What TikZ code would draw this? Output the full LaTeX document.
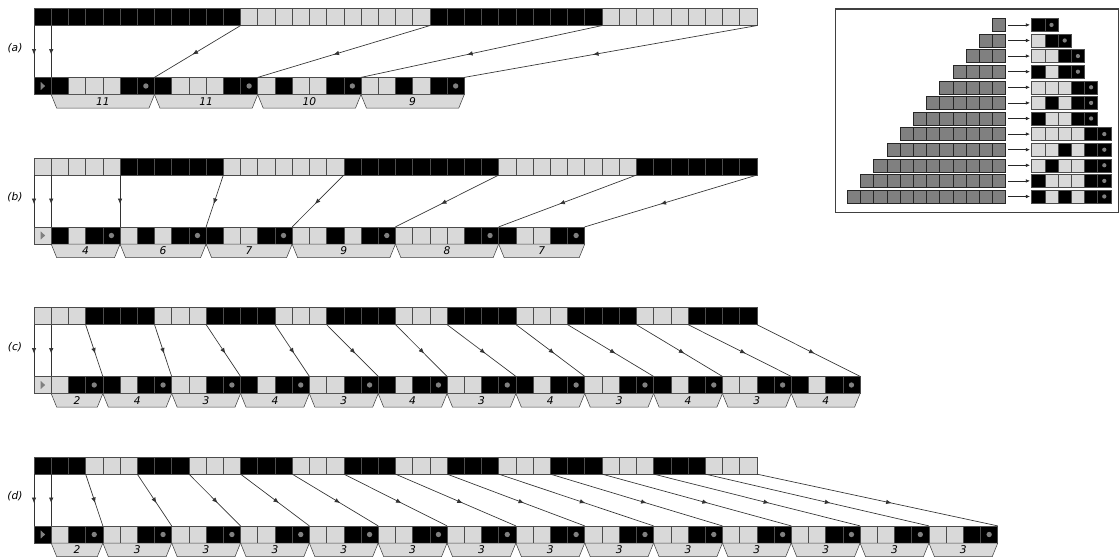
\documentclass[tikz,border=0pt]{standalone}
\usepackage{fontspec}
\setsansfont{DejaVu Sans}
\usepackage{xcolor}
\usepackage{tikz}
\usetikzlibrary{calc,arrows.meta,decorations.markings}

\definecolor{lightcell}{gray}{0.85}
\definecolor{midgray}{gray}{0.5}

\newcount\tpos
\newcount\bpos

% codewords: B = black, L = light, D = black with dot
\newcommand\setcode[2]{\expandafter\def\csname code#1\endcsname{#2}}
\setcode{1}{B,D}
\setcode{2}{L,B,D}
\setcode{3}{L,L,B,D}
\setcode{4}{B,L,B,D}
\setcode{5}{L,L,L,B,D}
\setcode{6}{L,B,L,B,D}
\setcode{7}{B,L,L,B,D}
\setcode{8}{L,L,L,L,B,D}
\setcode{9}{L,L,B,L,B,D}
\setcode{10}{L,B,L,L,B,D}
\setcode{11}{B,L,L,L,B,D}
\setcode{12}{B,L,B,L,B,D}

% #1 name, #2 y, #3 first colour, #4 other colour, #5 labels
\newcommand\coderow[5]{%
  \node[cell#3] (#1top0) at (42.6,#2) {};
  \node[start#3] (#1bot0) at (42.6,#2-69) {};
  \draw[link] (#1top0.south west) -- (#1bot0.north west);
  \global\tpos=1
  \global\bpos=1
  \foreach \runlen [count=\kk] in {#5} {
    \ifodd\kk\relax \def\runcol{#3}\else \def\runcol{#4}\fi
    \edef\ts{\the\tpos}
    \edef\bs{\the\bpos}
    \foreach \idx in {1,...,\runlen} {
      \pgfmathsetmacro\xx{42.6+\the\tpos*17.21}
      \node[cell\runcol] (#1top\the\tpos) at (\xx,#2) {};
      \global\advance\tpos by 1
    }
    \expandafter\let\expandafter\thiscode\csname code\runlen\endcsname
    \foreach \bit in \thiscode {
      \pgfmathsetmacro\xx{42.6+\the\bpos*17.21}
      \node[cell\bit] (#1bot\the\bpos) at (\xx,#2-69) {};
      \global\advance\bpos by 1
    }
    \pgfmathtruncatemacro\be{\the\bpos-1}
    \draw[link] (#1top\ts.south west) -- (#1bot\bs.north west);
    \draw[tag] (#1bot\bs.south west) -- (#1bot\be.south east)
      -- ([shift={(-4.1pt,-10.1pt)}]#1bot\be.south east)
      -- ([shift={(4.1pt,-10.1pt)}]#1bot\bs.south west) -- cycle;
    \node[tagtext] (#1tag\kk)
      at ($(#1bot\bs.south west)!0.5!(#1bot\be.south east)+(0,-5.05pt)$) {\runlen};
  }
  \pgfmathtruncatemacro\te{\the\tpos-1}
  \pgfmathtruncatemacro\be{\the\bpos-1}
  \draw[link] (#1top\te.south east) -- (#1bot\be.north east);
  \node[rowtext] (#1label) at (15,#2-31) {(#1)};
}

\begin{document}
\begin{tikzpicture}[
    x=0.75pt, y=0.75pt,
    font=\sffamily\itshape\fontsize{8}{9.6}\selectfont,
    cell/.style={
        draw=black!70,
        line width=0.4pt,
        minimum size=12.9pt,
        inner sep=0pt,
        outer sep=0pt
    },
    cellB/.style={cell, fill=black},
    cellL/.style={cell, fill=lightcell},
    cellD/.style={cellB,
        path picture={\fill[midgray] (path picture bounding box.center) circle (2pt);}},
    startB/.style={cellB,
        path picture={\fill[midgray] ([xshift=-1.4pt,yshift=3pt]path picture bounding box.center)
            -- ++(3.3pt,-3pt) -- ++(-3.3pt,-3pt) -- cycle;}},
    startL/.style={cellL,
        path picture={\fill[midgray] ([xshift=-1.4pt,yshift=3pt]path picture bounding box.center)
            -- ++(3.3pt,-3pt) -- ++(-3.3pt,-3pt) -- cycle;}},
    small/.style={
        draw=black!70,
        line width=0.4pt,
        minimum width=9.9pt,
        minimum height=9.75pt,
        inner sep=0pt,
        outer sep=0pt
    },
    smallB/.style={small, fill=black},
    smallL/.style={small, fill=lightcell},
    smallD/.style={smallB,
        path picture={\fill[midgray] (path picture bounding box.center) circle (1.6pt);}},
    graycell/.style={small, draw=black!85, fill=midgray},
    link/.style={
        draw=black!80,
        line width=0.5pt,
        postaction={decorate},
        decoration={markings,
            mark=at position 0.56 with {\arrow{Latex[length=4.2pt,width=3.4pt]}}}
    },
    tag/.style={draw=black!75, line width=0.4pt, fill=lightcell},
    tagtext/.style={inner sep=0pt},
    rowtext/.style={inner sep=0pt},
    tabarrow/.style={-{Latex[length=3pt,width=2.6pt]}, draw=black!85, line width=0.5pt,
        shorten <=2pt, shorten >=1.3pt},
    frame/.style={draw=black!75, line width=0.9pt}
]
\useasboundingbox (0,0) rectangle (1120,560);

% the four coded rows
\coderow{a}{543}{B}{L}{11,11,10,9}
\coderow{b}{393.5}{L}{B}{4,6,7,9,8,7}
\coderow{c}{244}{L}{B}{2,4,3,4,3,4,3,4,3,4,3,4}
\coderow{d}{94.5}{B}{L}{2,3,3,3,3,3,3,3,3,3,3,3,3,3}

% code table
\draw[frame] (835.5,347.3) rectangle (1118.5,551);
\foreach \rr in {1,...,12} {
    \pgfmathsetmacro\yy{560-24.9-(\rr-1)*15.6}
    \foreach \idx in {1,...,\rr} {
        \pgfmathsetmacro\xx{999.1-(\idx-1)*13.2}
        \node[graycell] (g\rr-\idx) at (\xx,\yy) {};
    }
    \expandafter\let\expandafter\thiscode\csname code\rr\endcsname
    \foreach \bit [count=\idx] in \thiscode {
        \pgfmathsetmacro\xx{1038.3+(\idx-1)*13.2}
        \node[small\bit] (w\rr-\idx) at (\xx,\yy) {};
    }
    \draw[tabarrow] (g\rr-1.east) -- (w\rr-1.west);
}

\end{tikzpicture}
\end{document}
